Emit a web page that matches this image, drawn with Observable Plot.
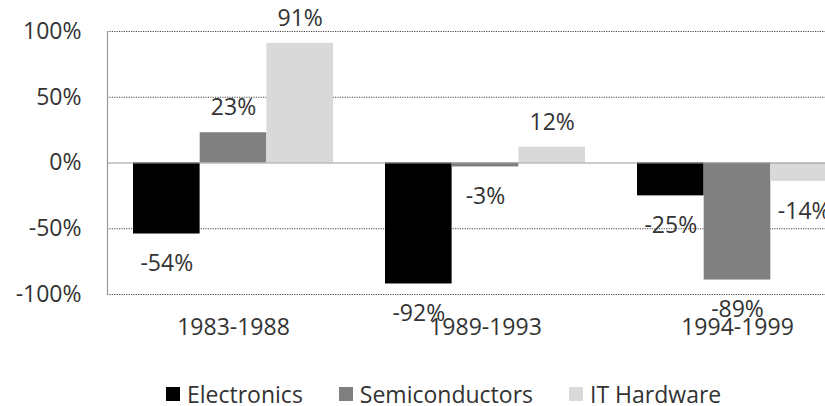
<!DOCTYPE html>
<html>
<head>
<meta charset="utf-8">
<script src="https://cdn.jsdelivr.net/npm/d3@7"></script>
<script src="https://cdn.jsdelivr.net/npm/@observablehq/plot@0.6"></script>
<style>
  html, body { margin: 0; padding: 0; background: #fff; overflow: hidden; }
  #wrap { position: relative; width: 825px; height: 406px; overflow: hidden; font-family: "Open Sans", sans-serif; }
  #chart { position: absolute; left: 0; top: 0; width: 870px; }
  #chart svg { max-width: none !important; }
  #legend { position: absolute; left: 166px; top: 379px; display: flex; align-items: center; font-size: 23px; color: #333; line-height: 30px; white-space: nowrap; }
  .item { display: flex; align-items: center; margin-right: 36px; }
  .sw { width: 14px; height: 14px; margin-right: 7px; }
</style>
</head>
<body>
<div id="wrap"><div id="chart"></div><div id="legend"></div></div>
<script>
const categories = ["1983-1988", "1989-1993", "1994-1999"];
const seriesNames = ["Electronics", "Semiconductors", "IT Hardware"];
const electronics = [-54, -92, -25];
const semiconductors = [23, -3, -89];
const itHardware = [91, 12, -14];
const seriesColors = ["#000000", "#808080", "#d9d9d9"];
const yTicks = [-100, -50, 0, 50, 100];
const gridTicks = [-100, -50, 50, 100];

const seriesValues = [electronics, semiconductors, itHardware];
const data = [];
seriesNames.forEach((s, i) => categories.forEach((c, j) => data.push({cat: c, series: s, idx: i, value: seriesValues[i][j]})));

const width = 870, marginLeft = 107, marginRight = 7;
const padIn = 0.206;
const step = (width - marginLeft - marginRight) / 3;
const bw = step * (1 - padIn);
const sub = bw / 3;

const marks = [
  Plot.ruleY(gridTicks, {stroke: "#444", strokeWidth: 1, strokeDasharray: "1.2,1.2"})
];
seriesNames.forEach((s, i) => {
  const d = data.filter(r => r.idx === i);
  marks.push(Plot.barY(d, {x: "cat", y: "value", fill: seriesColors[i], insetLeft: i * sub, insetRight: (2 - i) * sub}));
});
marks.push(Plot.ruleY([0], {stroke: "#9a9a9a", strokeWidth: 1.2}));
marks.push(Plot.frame({anchor: "left", stroke: "#9a9a9a", strokeWidth: 1.2}));
seriesNames.forEach((s, i) => {
  const d = data.filter(r => r.idx === i);
  const dx = (i - 1) * sub;
  marks.push(Plot.text(d.filter(r => r.value >= 0), {x: "cat", y: "value", text: r => r.value + "%", dx, dy: -25, fontSize: 23, fill: "#333", fontFamily: "Open Sans"}));
  marks.push(Plot.text(d.filter(r => r.value < 0), {x: "cat", y: "value", text: r => r.value + "%", dx, dy: 30, fontSize: 23, fill: "#333", fontFamily: "Open Sans"}));
});
marks.push(Plot.axisY(yTicks, {tickSize: 0, tickPadding: 26, tickFormat: d => d + "%", fontSize: 23, fill: "#333", label: null, fontFamily: "Open Sans"}));
marks.push(Plot.axisX({tickSize: 0, tickPadding: 24, fontSize: 23, fill: "#333", label: null, fontFamily: "Open Sans"}));

const chart = Plot.plot({
  width, height: 344,
  marginLeft, marginRight, marginTop: 31, marginBottom: 50,
  style: {fontFamily: "Open Sans", background: "white", overflow: "visible", maxWidth: "none"},
  x: {domain: categories, paddingInner: padIn, paddingOuter: padIn / 2, axis: null},
  y: {domain: [-100, 100], axis: null},
  marks
});
document.getElementById("chart").appendChild(chart);

const legend = document.getElementById("legend");
seriesNames.forEach((s, i) => {
  const item = document.createElement("div");
  item.className = "item";
  const sw = document.createElement("span");
  sw.className = "sw";
  sw.style.background = seriesColors[i];
  const t = document.createElement("span");
  t.textContent = s;
  item.appendChild(sw); item.appendChild(t);
  legend.appendChild(item);
});
</script>
</body>
</html>
